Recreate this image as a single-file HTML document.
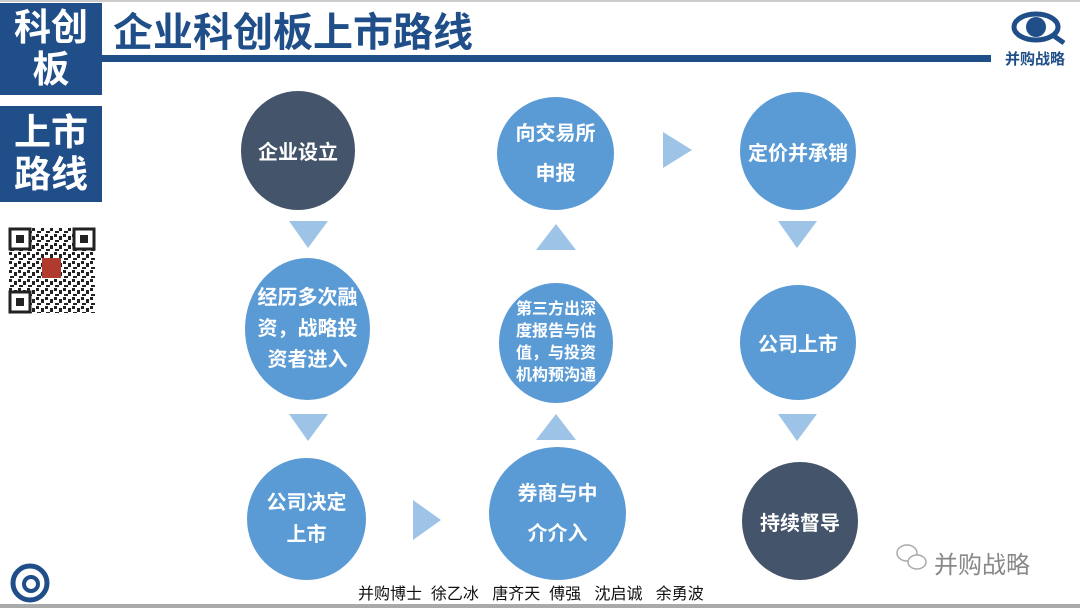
<!DOCTYPE html>
<html><head><meta charset="utf-8"><style>
body{margin:0;width:1080px;height:608px;background:#fff;position:relative;overflow:hidden;font-family:"Liberation Sans","Noto Sans CJK SC",sans-serif}
.box{position:absolute;left:0;width:102px;background:#1f4e89;color:#fff;font-weight:bold;font-size:37px;line-height:42px;text-align:center}
.c{position:absolute;border-radius:50%;display:flex;align-items:center;justify-content:center;text-align:center;color:#fff;font-weight:bold}
.l{background:#5b9bd5}.d{background:#44546a}
svg{position:absolute;left:0;top:0}
</style></head><body>
<div style="position:absolute;left:0;top:0;width:1080px;height:2px;background:#ccc"></div>
<div class="box" style="top:3px;height:92px;padding-top:4px;box-sizing:border-box">科创<br>板</div>
<div class="box" style="top:106px;height:96px;padding-top:6px;box-sizing:border-box">上市<br>路线</div>
<div style="position:absolute;left:113px;top:0px;font-size:40px;font-weight:bold;color:#1f4e89">企业科创板上市路线</div>
<div style="position:absolute;left:100px;top:55px;width:891px;height:7px;background:#1f4e89"></div>
<svg width="1080" height="608">
<ellipse cx="1036" cy="27" rx="22" ry="13" fill="#fff" stroke="#1f4e89" stroke-width="5"/>
<circle cx="1036" cy="27" r="10" fill="#1f4e89"/>
<line x1="1054" y1="36" x2="1064" y2="43" stroke="#1f4e89" stroke-width="5"/>
<g fill="#9dc3e6">
<polygon points="289,221 328,221 308,248"/>
<polygon points="289,414 328,414 308,441"/>
<polygon points="778,221 817,221 797,248"/>
<polygon points="778,414 817,414 797,441"/>
<polygon points="536,250 576,250 556,224"/>
<polygon points="536,440 576,440 556,414"/>
<polygon points="663,132 663,168 692,150"/>
<polygon points="413,500 413,540 441,520"/>
</g>
<defs><pattern id="q" width="9" height="9" patternUnits="userSpaceOnUse">
<rect x="0" y="0" width="3" height="3" fill="#222"/><rect x="5" y="2" width="3" height="4" fill="#222"/><rect x="1" y="6" width="4" height="2" fill="#222"/></pattern></defs>
<rect x="9" y="228" width="86" height="85" fill="url(#q)"/>
<g fill="#fff" stroke="#222" stroke-width="3">
<rect x="10" y="229" width="20" height="20"/><rect x="74" y="229" width="20" height="20"/><rect x="10" y="292" width="20" height="20"/></g>
<g fill="#222"><rect x="16" y="235" width="8" height="8"/><rect x="80" y="235" width="8" height="8"/><rect x="16" y="298" width="8" height="8"/></g>
<rect x="42" y="258" width="19" height="20" fill="#b03a2e"/>
<circle cx="30" cy="583" r="17" fill="none" stroke="#1f4e89" stroke-width="5"/>
<circle cx="31" cy="584" r="7" fill="none" stroke="#1f4e89" stroke-width="4"/>
<ellipse cx="907" cy="553" rx="10" ry="8" fill="none" stroke="#aaa" stroke-width="1.5"/>
<ellipse cx="917" cy="562" rx="9" ry="7" fill="#fff" stroke="#aaa" stroke-width="1.5"/>
</svg>
<div style="position:absolute;left:1005px;top:48px;font-size:15px;font-weight:bold;color:#1f4e89">并购战略</div>
<div class="c d" style="left:241px;top:91px;width:114px;height:119px;font-size:20px">企业设立</div>
<div class="c l" style="left:245px;top:258px;width:125px;height:142px;font-size:20px;line-height:31px">经历多次融<br>资，战略投<br>资者进入</div>
<div class="c l" style="left:247px;top:458px;width:119px;height:122px;font-size:20px;line-height:32px">公司决定<br>上市</div>
<div class="c l" style="left:497px;top:97px;width:117px;height:113px;font-size:20px;line-height:40px">向交易所<br>申报</div>
<div class="c l" style="left:499px;top:283px;width:114px;height:120px;font-size:16px;line-height:22px">第三方出深<br>度报告与估<br>值，与投资<br>机构预沟通</div>
<div class="c l" style="left:489px;top:447px;width:137px;height:133px;font-size:20px;line-height:40px">券商与中<br>介介入</div>
<div class="c l" style="left:740px;top:92px;width:116px;height:118px;font-size:20px">定价并承销</div>
<div class="c l" style="left:740px;top:285px;width:116px;height:115px;font-size:20px">公司上市</div>
<div class="c d" style="left:742px;top:462px;width:116px;height:118px;font-size:20px">持续督导</div>
<div style="position:absolute;left:934px;top:545px;font-size:24px;color:#888">并购战略</div>
<div style="position:absolute;left:358px;top:580px;font-size:16px;color:#111;white-space:pre">并购博士  徐乙冰   唐齐天  傅强   沈启诚   余勇波</div>
<div style="position:absolute;left:0;top:604px;width:1080px;height:4px;background:#aaa"></div>
</body></html>
